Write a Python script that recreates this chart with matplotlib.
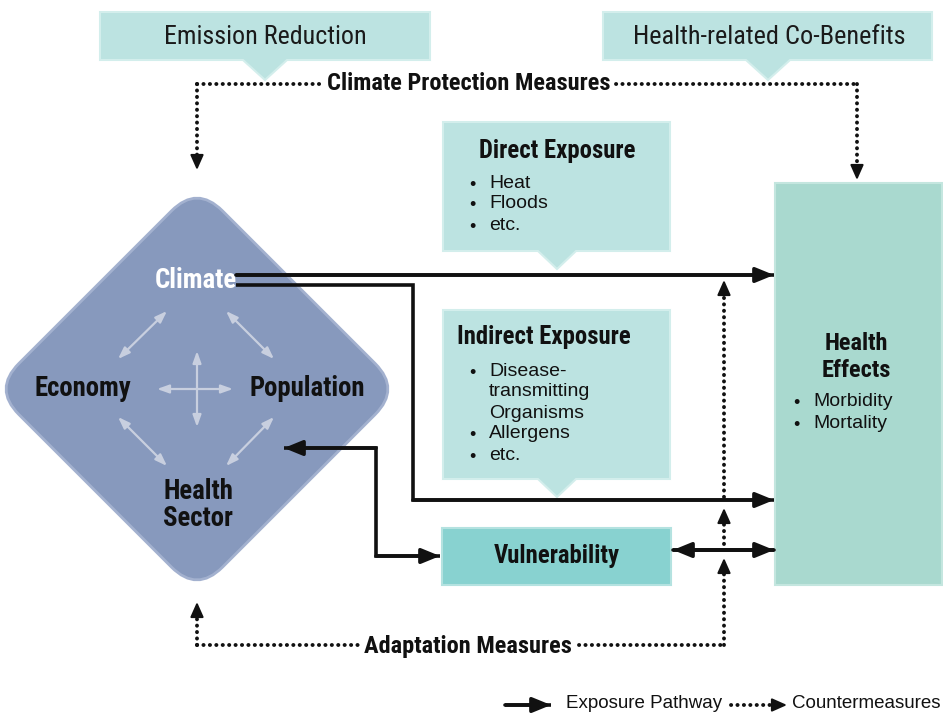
import matplotlib.pyplot as plt
from matplotlib.patches import FancyBboxPatch, Polygon, Rectangle
from matplotlib.transforms import Affine2D

# labels
top_callouts = ['Emission Reduction', 'Health-related Co-Benefits']
diamond_labels = ['Climate', 'Economy', 'Population', 'Health\nSector']
direct_title = 'Direct Exposure'
direct_items = ['Heat', 'Floods', 'etc.']
indirect_title = 'Indirect Exposure'
indirect_items = ['Disease-\ntransmitting\nOrganisms', 'Allergens', 'etc.']
health_title = 'Health\nEffects'
health_items = ['Morbidity', 'Mortality']
legend_labels = ['Exposure Pathway', 'Countermeasures']

NARROW = ['Roboto Condensed', 'Archivo Narrow', 'Liberation Sans Narrow',
          'DejaVu Sans']
REG = ['Liberation Sans', 'Arimo', 'DejaVu Sans']

c_diamond = '#8799bd'
c_light = '#bce3e1'
c_vuln = '#88d2d0'
c_health = '#a9d9cf'
c_grey = '#c8cfdf'

fig = plt.figure(figsize=(9.43, 7.13), dpi=100)
ax = fig.add_axes([0, 0, 1, 1])
ax.set_xlim(0, 943)
ax.set_ylim(713, 0)
ax.axis('off')


def callout(x0, x1, y0, y1, tx, tip, half=22, color=c_light):
    pts = [(x0, y0), (x1, y0), (x1, y1), (tx + half, y1), (tx, tip),
           (tx - half, y1), (x0, y1)]
    ax.add_patch(Polygon(pts, closed=True, fc=color, ec='#d3eeec', lw=1.5))


def solid_arrow(pts, both=False):
    xs = [p[0] for p in pts]
    ys = [p[1] for p in pts]
    ax.plot(xs, ys, color='#111111', lw=2.6,
            solid_capstyle='butt', solid_joinstyle='miter')
    ax.annotate('', xy=pts[-1], xytext=pts[-2],
                arrowprops=dict(arrowstyle='-|>,head_length=1.1,head_width=0.45',
                                color='#111111', lw=2.6, shrinkA=0, shrinkB=0))
    if both:
        ax.annotate('', xy=pts[0], xytext=pts[1],
                    arrowprops=dict(arrowstyle='-|>,head_length=1.1,head_width=0.45',
                                    color='#111111', lw=2.6, shrinkA=0, shrinkB=0))


def dotted(xs, ys):
    ax.plot(xs, ys, color='#111111', lw=2.8, linestyle=(0, (0.05, 1.6)),
            dash_capstyle='round')


def dot_head(tip, direction):
    # small solid head at the end of a dotted line
    dx, dy = direction
    ax.annotate('', xy=tip, xytext=(tip[0] - dx * 14, tip[1] - dy * 14),
                arrowprops=dict(arrowstyle='-|>,head_length=0.9,head_width=0.4',
                                color='#111111', lw=1.5, shrinkA=0, shrinkB=0))


def bullets(x, y0, items, step=21):
    row = 0
    for item in items:
        for k, line in enumerate(item.split('\n')):
            y = y0 + step * row
            if k == 0:
                ax.text(x, y + 3, '•', ha='center', va='center', fontsize=13,
                        family=REG, color='#111111')
            ax.text(x + 17, y + 1, line, ha='left', va='center', fontsize=14,
                    family=REG, color='#111111')
            row += 1


# top callouts
callout(100, 430, 12, 60, 265, 80)
callout(603, 932, 12, 60, 768, 80)
ax.text(265, 37, top_callouts[0], ha='center', va='center', fontsize=18.7,
        family=NARROW, color='#1a1a1a')
ax.text(769, 37, top_callouts[1], ha='center', va='center', fontsize=18.9,
        family=NARROW, color='#1a1a1a')

# climate protection measures
ax.text(469, 84, 'Climate Protection Measures', ha='center', va='center',
        fontsize=17.6, family=NARROW, weight='bold', color='#111111')
dotted([197, 324], [84, 84])
dotted([616, 857], [84, 84])
dotted([197, 197], [84, 160])
dot_head((197, 170), (0, 1))
dotted([857, 857], [84, 168])
dot_head((857, 180), (0, 1))

# diamond
cx, cy, half, r = 197, 389, 144, 36
diamond = FancyBboxPatch((cx - half, cy - half), 2 * half, 2 * half,
                         boxstyle=f'round,pad=0,rounding_size={r}',
                         fc=c_diamond, ec='#a3b1cf', lw=2)
diamond.set_transform(Affine2D().rotate_deg_around(cx, cy, 45) + ax.transData)
ax.add_patch(diamond)

ax.text(196, 281, diamond_labels[0], ha='center', va='center', fontsize=19.3,
        family=NARROW, weight='bold', color='white')
ax.text(83, 389, diamond_labels[1], ha='center', va='center', fontsize=19.3,
        family=NARROW, weight='bold', color='#111111')
ax.text(307, 389, diamond_labels[2], ha='center', va='center', fontsize=19.3,
        family=NARROW, weight='bold', color='#111111')
ax.text(198, 505, diamond_labels[3], ha='center', va='center', fontsize=19.3,
        family=NARROW, weight='bold', color='#111111', linespacing=0.98)

grey_arrows = [((167, 311), (118, 359)), ((226, 311), (274, 359)),
               ((118, 417), (167, 466)), ((274, 417), (226, 466)),
               ((157, 389), (233, 389)), ((197, 351), (197, 427))]
for a, b in grey_arrows:
    ax.annotate('', xy=b, xytext=a,
                arrowprops=dict(arrowstyle='<|-|>,head_length=0.7,head_width=0.25',
                                color=c_grey, lw=1.6, shrinkA=0, shrinkB=0))

# exposure callouts
callout(443, 670, 122, 251, 557, 269, half=19)
ax.text(557, 151, direct_title, ha='center', va='center', fontsize=17.8,
        family=NARROW, weight='bold', color='#111111')
bullets(472, 182, direct_items)

callout(443, 670, 310, 479, 557, 497, half=19)
ax.text(457, 337, indirect_title, ha='left', va='center', fontsize=17.8,
        family=NARROW, weight='bold', color='#111111')
bullets(472, 370, indirect_items, step=21)

# vulnerability
ax.add_patch(Rectangle((442, 528), 229, 57, fc=c_vuln, ec='#b4e2e0', lw=1.5))
ax.text(557, 556, 'Vulnerability', ha='center', va='center', fontsize=17.8,
        family=NARROW, weight='bold', color='#111111')

# health effects
ax.add_patch(Rectangle((775, 183), 167, 402, fc=c_health, ec='#c4e6df', lw=1.5))
ax.text(856, 357, health_title, ha='center', va='center', fontsize=17.6,
        family=NARROW, weight='bold', color='#111111', linespacing=1.2)
bullets(796, 401, health_items)

# exposure pathways
solid_arrow([(236, 275), (774, 275)])
solid_arrow([(236, 285), (413, 285), (413, 500), (774, 500)])
solid_arrow([(284, 448), (376, 448), (376, 556), (440, 556)], both=True)
solid_arrow([(673, 550), (774, 550)], both=True)

# adaptation measures
ax.text(468, 647, 'Adaptation Measures', ha='center', va='center',
        fontsize=17.6, family=NARROW, weight='bold', color='#111111')
dotted([197, 358], [645, 645])
dotted([579, 724], [645, 645])
dotted([197, 197], [645, 614])
dot_head((197, 602), (0, -1))
dotted([724, 724], [645, 572])
dot_head((724, 558), (0, -1))
dotted([724, 724], [544, 522])
dot_head((724, 508), (0, -1))
dotted([724, 724], [497, 294])
dot_head((724, 280), (0, -1))

# legend
solid_arrow([(505, 705), (551, 705)])
ax.text(566, 704, legend_labels[0], ha='left', va='center', fontsize=13.5,
        family=REG, color='#111111')
dotted([731, 774], [705, 705])
dot_head((787, 705), (1, 0))
ax.text(792, 703, legend_labels[1], ha='left', va='center', fontsize=13.5,
        family=REG, color='#111111')

fig.savefig('out.png', dpi=100)
